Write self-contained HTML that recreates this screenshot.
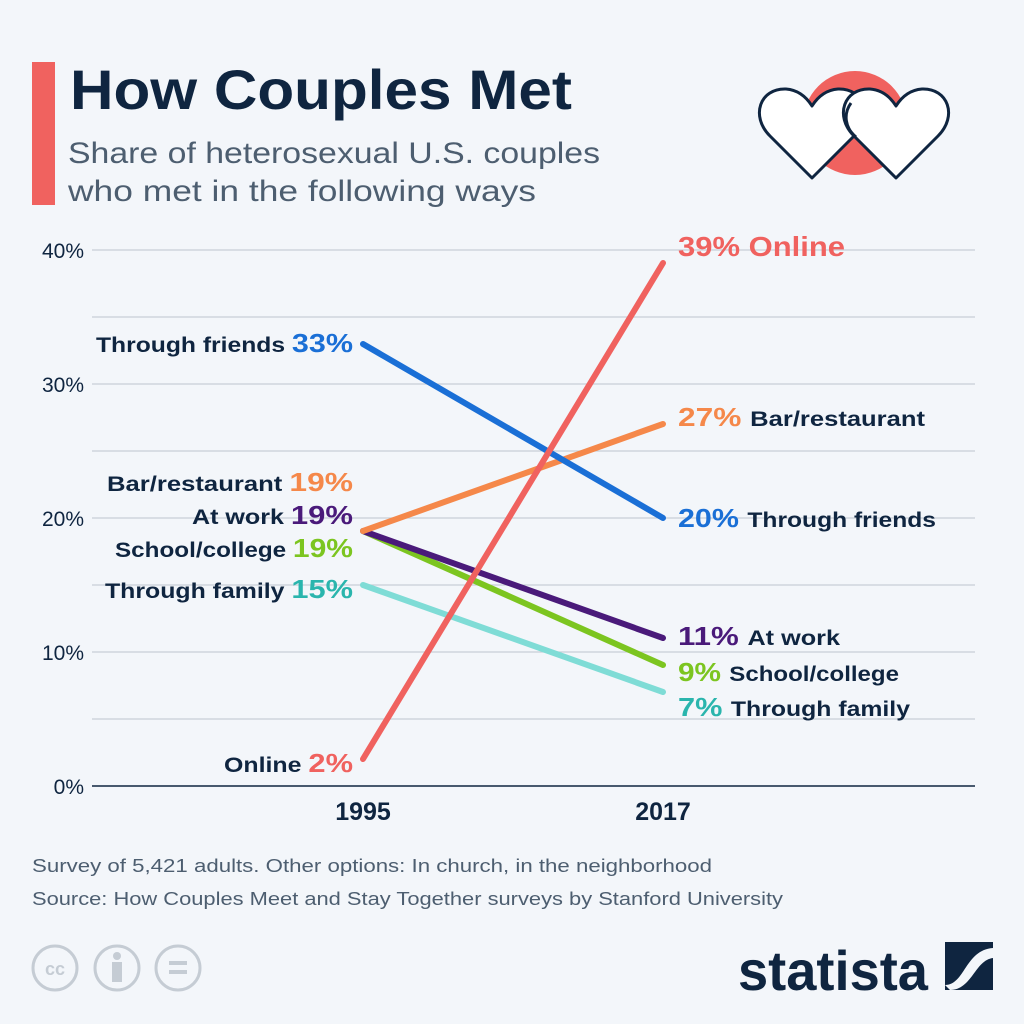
<!DOCTYPE html>
<html><head><meta charset="utf-8"><style>
html,body{margin:0;padding:0;background:#f3f6fa;}
svg{display:block;font-family:"Liberation Sans",sans-serif;}
</style></head><body>
<svg width="1024" height="1024" viewBox="0 0 1024 1024">
<rect width="1024" height="1024" fill="#f3f6fa"/>
<rect x="32" y="62" width="23" height="143" fill="#f0625f"/>
<text x="70" y="109" font-size="56" font-weight="bold" fill="#0f2540" textLength="502" lengthAdjust="spacingAndGlyphs">How Couples Met</text>
<text x="68" y="163" font-size="30" fill="#4d5e70" textLength="532" lengthAdjust="spacingAndGlyphs">Share of heterosexual U.S. couples</text>
<text x="68" y="201" font-size="30" fill="#4d5e70" textLength="468" lengthAdjust="spacingAndGlyphs">who met in the following ways</text>
<!-- hearts -->
<circle cx="855" cy="123" r="52" fill="#f0625f"/>
<path d="M812,178 L770,136 C750,116 760,88 786,89 C799,90 807,98 812,106 C817,98 825,90 838,89 C864,88 874,116 854,136 Z" fill="#fff" stroke="#0f2540" stroke-width="3" stroke-linejoin="round"/>
<path d="M896,178 L854,136 C834,116 844,88 870,89 C883,90 891,98 896,106 C901,98 909,90 922,89 C948,88 958,116 938,136 Z" fill="#fff" stroke="#0f2540" stroke-width="3" stroke-linejoin="round"/>
<path d="M851,103 C843,114 845,128 856,137" fill="none" stroke="#0f2540" stroke-width="3"/>
<!-- grid -->
<g stroke="#c8ced6" stroke-width="1.3">
<line x1="92" x2="975" y1="250" y2="250"/><line x1="92" x2="975" y1="317" y2="317"/>
<line x1="92" x2="975" y1="384" y2="384"/><line x1="92" x2="975" y1="451" y2="451"/>
<line x1="92" x2="975" y1="518" y2="518"/><line x1="92" x2="975" y1="585" y2="585"/>
<line x1="92" x2="975" y1="652" y2="652"/><line x1="92" x2="975" y1="719" y2="719"/>
</g>
<line x1="92" x2="975" y1="786" y2="786" stroke="#0f2540" stroke-width="1.5"/>
<g font-size="21" fill="#0f2540" text-anchor="end">
<text x="84" y="258">40%</text><text x="84" y="392">30%</text><text x="84" y="526">20%</text><text x="84" y="660">10%</text><text x="84" y="794">0%</text>
</g>
<g font-size="25" font-weight="bold" fill="#0f2540" text-anchor="middle">
<text x="363" y="820">1995</text><text x="663" y="820">2017</text>
</g>
<!-- lines -->
<g stroke-width="6" stroke-linecap="round" fill="none">
<line x1="363" y1="585" x2="663" y2="692" stroke="#7fdcd6"/>
<line x1="363" y1="531" x2="663" y2="665" stroke="#7cc520"/>
<line x1="363" y1="531" x2="663" y2="638" stroke="#4a1a7a"/>
<line x1="363" y1="531" x2="663" y2="424" stroke="#f5884a"/>
<line x1="363" y1="344" x2="663" y2="518" stroke="#1a6fd6"/>
<line x1="363" y1="759" x2="663" y2="263" stroke="#f0625f"/>
</g>
<!-- left labels -->
<g font-weight="bold" fill="#0f2540" font-size="21">
<text x="96" y="352" textLength="257" lengthAdjust="spacingAndGlyphs"><tspan>Through friends </tspan><tspan font-size="26" fill="#1a6fd6">33%</tspan></text>
<text x="107" y="491" textLength="246" lengthAdjust="spacingAndGlyphs"><tspan>Bar/restaurant </tspan><tspan font-size="26" fill="#f5884a">19%</tspan></text>
<text x="192" y="524" textLength="161" lengthAdjust="spacingAndGlyphs"><tspan>At work </tspan><tspan font-size="26" fill="#4a1a7a">19%</tspan></text>
<text x="115" y="557" textLength="238" lengthAdjust="spacingAndGlyphs"><tspan>School/college </tspan><tspan font-size="26" fill="#7cc520">19%</tspan></text>
<text x="105" y="598" textLength="248" lengthAdjust="spacingAndGlyphs"><tspan>Through family </tspan><tspan font-size="26" fill="#2ab5ad">15%</tspan></text>
<text x="224" y="772" textLength="129" lengthAdjust="spacingAndGlyphs"><tspan>Online </tspan><tspan font-size="26" fill="#f0625f">2%</tspan></text>
</g>
<!-- right labels -->
<g font-weight="bold" fill="#0f2540" font-size="21">
<text x="678" y="256" font-size="28" fill="#f0625f" textLength="167" lengthAdjust="spacingAndGlyphs">39% Online</text>
<text x="678" y="426" textLength="247" lengthAdjust="spacingAndGlyphs"><tspan font-size="26" fill="#f5884a">27% </tspan><tspan>Bar/restaurant</tspan></text>
<text x="678" y="527" textLength="258" lengthAdjust="spacingAndGlyphs"><tspan font-size="26" fill="#1a6fd6">20% </tspan><tspan>Through friends</tspan></text>
<text x="678" y="645" textLength="162" lengthAdjust="spacingAndGlyphs"><tspan font-size="26" fill="#4a1a7a">11% </tspan><tspan>At work</tspan></text>
<text x="678" y="681" textLength="221" lengthAdjust="spacingAndGlyphs"><tspan font-size="26" fill="#7cc520">9% </tspan><tspan>School/college</tspan></text>
<text x="678" y="716" textLength="232" lengthAdjust="spacingAndGlyphs"><tspan font-size="26" fill="#2ab5ad">7% </tspan><tspan>Through family</tspan></text>
</g>
<g font-size="18" fill="#4d5e70">
<text x="32" y="872" textLength="680" lengthAdjust="spacingAndGlyphs">Survey of 5,421 adults. Other options: In church, in the neighborhood</text>
<text x="32" y="905" textLength="751" lengthAdjust="spacingAndGlyphs">Source: How Couples Meet and Stay Together surveys by Stanford University</text>
</g>
<!-- cc icons -->
<g fill="none" stroke="#c5ccd4" stroke-width="3">
<circle cx="55" cy="968" r="22"/><circle cx="117" cy="968" r="22"/><circle cx="178" cy="968" r="22"/>
</g>
<text x="55" y="975" font-size="18" font-weight="bold" fill="#c5ccd4" text-anchor="middle">cc</text>
<circle cx="117" cy="956" r="4" fill="#c5ccd4"/>
<rect x="112" y="962" width="10" height="20" fill="#c5ccd4"/>
<rect x="169" y="961" width="18" height="4" fill="#c5ccd4"/><rect x="169" y="970" width="18" height="4" fill="#c5ccd4"/>
<text x="738" y="990" font-size="56" font-weight="bold" fill="#0f2540" textLength="190" lengthAdjust="spacingAndGlyphs">statista</text>
<rect x="945" y="942" width="48" height="48" fill="#0f2540"/>
<path d="M945,985 C965,985 965,950 993,948 L993,958 C975,960 972,990 950,990 Z" fill="#f3f6fa"/>
</svg>
</body></html>
